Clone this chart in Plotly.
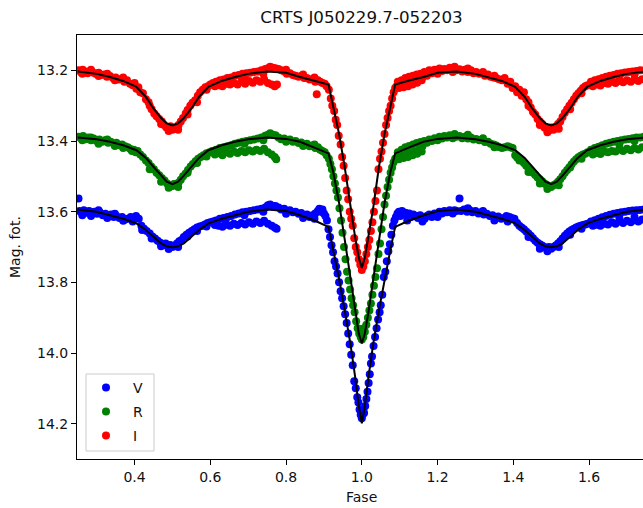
import plotly.graph_objects as go

title_text = "CRTS J050229.7-052203"
x_label = "Fase"
y_label = "Mag. fot."
band_names = ["V", "R", "I"]
band_colors = ["#0000ff", "#008000", "#ff0000"]
x_ticks = [0.4, 0.6, 0.8, 1.0, 1.2, 1.4, 1.6]
y_ticks = [13.2, 13.4, 13.6, 13.8, 14.0, 14.2]

# model light curve, phase 0.25 -> 1.0 (mirrored about phase 1.0)
model_phase = [0.25, 0.30, 0.335, 0.37, 0.405, 0.43, 0.45, 0.47, 0.485, 0.50,
               0.515, 0.53, 0.55, 0.57, 0.595, 0.63, 0.665, 0.70, 0.75, 0.80,
               0.837, 0.875, 0.912, 0.925, 0.940, 0.955, 0.970, 0.982, 0.992, 1.0]
model_V = [13.594, 13.600, 13.610, 13.620, 13.633, 13.652, 13.671, 13.690, 13.698, 13.701,
           13.698, 13.690, 13.671, 13.652, 13.633, 13.620, 13.610, 13.600, 13.594, 13.598,
           13.610, 13.625, 13.643, 13.710, 13.790, 13.880, 13.975, 14.065, 14.150, 14.199]
model_R = [13.390, 13.395, 13.402, 13.412, 13.426, 13.448, 13.473, 13.498, 13.515, 13.522,
           13.515, 13.498, 13.473, 13.448, 13.426, 13.412, 13.402, 13.395, 13.390, 13.394,
           13.402, 13.418, 13.435, 13.490, 13.575, 13.680, 13.790, 13.880, 13.945, 13.973]
model_I = [13.203, 13.210, 13.219, 13.230, 13.247, 13.275, 13.308, 13.335, 13.350, 13.356,
           13.350, 13.335, 13.308, 13.275, 13.247, 13.230, 13.219, 13.210, 13.203, 13.207,
           13.219, 13.229, 13.240, 13.305, 13.380, 13.475, 13.590, 13.670, 13.730, 13.759]

# ---------------- observed points (phase, magnitude) ----------------
V_first = [(0.252,13.563),(0.254,13.598),(0.260,13.602),(0.266,13.596),(0.273,13.603),(0.280,13.598),
    (0.287,13.605),(0.294,13.600),(0.301,13.606),(0.308,13.602),(0.316,13.610),(0.323,13.606),
    (0.330,13.612),(0.338,13.608),(0.345,13.615),(0.352,13.612),(0.360,13.618),(0.367,13.615),
    (0.375,13.622),(0.382,13.620),(0.390,13.615),(0.397,13.618),(0.404,13.612),(0.411,13.620),
    (0.418,13.640),(0.425,13.648),(0.432,13.655),(0.440,13.662),(0.447,13.670),(0.454,13.676),
    (0.461,13.682),(0.468,13.688),(0.475,13.694),(0.482,13.690),(0.488,13.698),(0.494,13.694),
    (0.500,13.700),(0.506,13.696),(0.512,13.690),(0.518,13.684),(0.524,13.680),(0.530,13.672),
    (0.537,13.665),(0.544,13.660),(0.551,13.655),(0.558,13.650),(0.565,13.645),(0.572,13.642),
    (0.579,13.640),(0.586,13.636),(0.593,13.632),(0.600,13.630),(0.607,13.628),
    (0.615,13.625),(0.625,13.620),(0.635,13.618),(0.645,13.615),(0.655,13.612),(0.665,13.608),
    (0.675,13.605),(0.685,13.602),(0.695,13.600),(0.705,13.598),(0.715,13.596),(0.725,13.594),
    (0.735,13.592),(0.745,13.588),(0.752,13.582),(0.758,13.580),(0.765,13.584),(0.772,13.584),
    (0.612,13.638),(0.622,13.640),(0.632,13.643),(0.642,13.637),(0.652,13.640),(0.662,13.634),
    (0.672,13.638),(0.682,13.632),(0.692,13.636),(0.702,13.630),(0.712,13.634),(0.722,13.628),
    (0.732,13.632),(0.742,13.626),(0.752,13.634),(0.762,13.640),(0.770,13.645),(0.775,13.648),
    (0.780,13.588),(0.787,13.594),(0.795,13.592),(0.802,13.598),(0.810,13.596),(0.818,13.602),
    (0.825,13.600),(0.833,13.606),(0.840,13.604),(0.848,13.610),(0.855,13.608),(0.862,13.615),
    (0.870,13.610),(0.877,13.605),(0.884,13.598),(0.888,13.592),(0.892,13.600),(0.896,13.594),
    (0.900,13.605),(0.904,13.612),(0.908,13.625)]
V_eclipse = [(0.912,13.650),(0.916,13.672),(0.920,13.695),(0.924,13.715),(0.928,13.740),(0.932,13.755),
    (0.936,13.775),(0.940,13.800),(0.944,13.825),(0.948,13.845),(0.952,13.868),(0.956,13.890),
    (0.960,13.915),(0.964,13.945),(0.968,13.975),(0.972,14.005),(0.976,14.035),(0.980,14.080),
    (0.984,14.100),(0.988,14.125),(0.991,14.140),(0.994,14.160),(0.997,14.175),(1.000,14.185),
    (1.002,14.175),(1.004,14.160),(1.006,14.170),(1.009,14.150),(1.012,14.130),(1.015,14.110),
    (1.018,14.085),(1.021,14.060),(1.024,14.030),(1.027,14.010),(1.031,13.980),(1.035,13.955),
    (1.039,13.930),(1.043,13.905),(1.047,13.885),(1.050,13.865),(1.054,13.835),(1.058,13.785),
    (1.062,13.770),(1.066,13.740),(1.070,13.712),(1.074,13.692),(1.078,13.665),(1.082,13.640),
    (1.086,13.625),(1.090,13.615)]
V_second = [(1.094,13.605),(1.098,13.600),(1.102,13.612),(1.106,13.598),(1.110,13.608),(1.115,13.603),
    (1.120,13.612),(1.125,13.605),(1.130,13.615),(1.136,13.608),(1.142,13.612),(1.148,13.618),
    (1.154,13.610),(1.160,13.615),(1.166,13.620),(1.172,13.612),(1.178,13.608),(1.185,13.615),
    (1.192,13.605),(1.198,13.610),(1.205,13.600),(1.212,13.605),(1.218,13.598),(1.225,13.602),
    (1.232,13.596),(1.238,13.600),(1.245,13.596),(1.250,13.598),(1.258,13.563),(1.262,13.598),
    (1.270,13.594),(1.278,13.600),(1.285,13.596),(1.292,13.602),(1.300,13.598),(1.308,13.605),
    (1.315,13.602),(1.322,13.608),(1.330,13.606),(1.338,13.612),(1.345,13.610),(1.352,13.615),
    (1.360,13.614),(1.368,13.620),(1.375,13.618),(1.382,13.612),(1.390,13.615),(1.396,13.618),
    (1.403,13.620),(1.410,13.632),(1.416,13.640),(1.422,13.645),(1.428,13.650),(1.434,13.656),
    (1.440,13.662),(1.446,13.668),(1.452,13.675),(1.458,13.682),(1.464,13.688),(1.470,13.692),
    (1.476,13.696),(1.482,13.700),(1.488,13.703),(1.494,13.700),(1.500,13.705),(1.506,13.700),
    (1.512,13.696),(1.518,13.690),(1.524,13.684),(1.530,13.676),(1.536,13.668),(1.542,13.662),
    (1.548,13.656),(1.554,13.652),(1.560,13.648),(1.566,13.645),(1.572,13.642),(1.578,13.640),
    (1.584,13.638),(1.590,13.636),(1.596,13.634),
    (1.605,13.628),(1.615,13.624),(1.625,13.620),(1.635,13.616),(1.645,13.612),(1.655,13.609),
    (1.665,13.606),(1.675,13.604),(1.685,13.602),(1.695,13.600),(1.705,13.598),(1.715,13.597),
    (1.725,13.596),(1.735,13.595),(1.745,13.594),
    (1.610,13.640),(1.620,13.637),(1.630,13.640),(1.640,13.634),(1.650,13.636),(1.660,13.630),
    (1.670,13.634),(1.680,13.628),(1.690,13.632),(1.700,13.626),(1.710,13.630),(1.720,13.624),
    (1.730,13.628),(1.740,13.622)]
V_extra = [(0.262,13.610),(0.285,13.612),(0.305,13.596),(0.328,13.618),(0.348,13.606),(0.370,13.626),
    (0.395,13.628),(0.420,13.652),(0.445,13.676),(0.470,13.698),(0.490,13.706),(0.515,13.700),
    (0.540,13.670),(0.565,13.655),(0.590,13.642),(0.640,13.626),(0.690,13.610),(0.740,13.600),
    (0.800,13.606),(0.845,13.618),(0.875,13.620),(1.120,13.625),(1.160,13.628),(1.200,13.615),
    (1.240,13.605),(1.280,13.590),(1.320,13.598),(1.350,13.625),(1.385,13.628),(1.440,13.672),
    (1.470,13.705),(1.490,13.712),(1.520,13.700),(1.550,13.665),(1.580,13.648),(1.620,13.632),
    (1.680,13.618),(1.720,13.615)]

R_first = [(0.252,13.388),(0.258,13.392),(0.264,13.386),(0.271,13.395),(0.278,13.390),(0.285,13.398),
    (0.292,13.393),(0.300,13.400),(0.307,13.396),(0.315,13.402),(0.322,13.398),(0.330,13.405),
    (0.337,13.402),(0.345,13.408),(0.352,13.405),(0.360,13.412),(0.367,13.410),(0.375,13.415),
    (0.382,13.418),(0.388,13.422),(0.393,13.428),(0.398,13.425),(0.403,13.432),(0.408,13.428),
    (0.415,13.438),(0.422,13.445),(0.430,13.455),(0.437,13.462),(0.444,13.472),(0.451,13.480),
    (0.458,13.490),(0.465,13.497),(0.472,13.505),(0.479,13.512),(0.486,13.520),(0.492,13.525),
    (0.498,13.528),(0.504,13.522),(0.510,13.526),(0.516,13.518),(0.522,13.510),(0.528,13.500),
    (0.535,13.492),(0.541,13.482),(0.548,13.472),(0.554,13.465),(0.561,13.457),(0.568,13.450),
    (0.575,13.445),(0.582,13.440),(0.590,13.435),(0.598,13.432),(0.605,13.428),
    (0.615,13.425),(0.625,13.420),(0.635,13.418),(0.645,13.415),(0.655,13.412),(0.665,13.408),
    (0.675,13.405),(0.685,13.402),(0.695,13.400),(0.705,13.398),(0.715,13.396),(0.725,13.393),
    (0.735,13.390),(0.745,13.385),(0.752,13.382),(0.758,13.378),(0.765,13.382),(0.772,13.384),
    (0.612,13.438),(0.622,13.435),(0.632,13.440),(0.642,13.432),(0.652,13.436),(0.662,13.430),
    (0.672,13.434),(0.682,13.428),(0.692,13.432),(0.702,13.426),(0.712,13.430),(0.722,13.425),
    (0.732,13.428),(0.742,13.422),(0.752,13.432),(0.762,13.438),(0.770,13.445),(0.774,13.452),
    (0.780,13.390),(0.787,13.395),(0.795,13.393),(0.802,13.398),(0.810,13.396),(0.818,13.402),
    (0.825,13.400),(0.833,13.406),(0.840,13.404),(0.848,13.410),(0.855,13.408),(0.862,13.415),
    (0.870,13.413),(0.877,13.420),(0.884,13.418),(0.890,13.425),(0.896,13.428),(0.902,13.432),
    (0.907,13.440)]
R_eclipse = [(0.913,13.450),(0.917,13.465),(0.921,13.480),(0.925,13.500),(0.929,13.520),(0.933,13.540),
    (0.937,13.560),(0.941,13.590),(0.945,13.625),(0.949,13.660),(0.953,13.700),(0.957,13.735),
    (0.961,13.770),(0.965,13.795),(0.969,13.820),(0.973,13.845),(0.977,13.865),(0.981,13.885),
    (0.985,13.910),(0.989,13.930),(0.993,13.945),(0.994,13.932),(0.997,13.955),(1.000,13.962),
    (1.003,13.940),(1.004,13.955),(1.006,13.930),(1.008,13.940),(1.012,13.920),(1.016,13.900),
    (1.020,13.880),(1.024,13.860),(1.028,13.835),(1.032,13.810),(1.036,13.785),(1.040,13.760),
    (1.044,13.720),(1.048,13.690),(1.052,13.650),(1.056,13.615),(1.060,13.580),(1.064,13.555),
    (1.068,13.530),(1.072,13.510),(1.076,13.490),(1.080,13.475),(1.084,13.460),(1.088,13.450)]
R_second = [(1.092,13.448),(1.098,13.452),(1.104,13.442),(1.110,13.448),(1.116,13.438),(1.122,13.445),
    (1.128,13.435),(1.134,13.440),(1.140,13.430),(1.146,13.436),(1.152,13.425),(1.158,13.430),
    (1.095,13.432),(1.105,13.425),(1.115,13.418),(1.125,13.414),(1.135,13.410),(1.145,13.406),
    (1.155,13.403),(1.165,13.400),(1.172,13.405),(1.178,13.396),(1.185,13.400),(1.192,13.392),
    (1.198,13.396),(1.205,13.388),(1.212,13.393),(1.218,13.386),(1.225,13.390),(1.232,13.384),
    (1.238,13.388),(1.245,13.380),(1.250,13.388),(1.258,13.386),(1.265,13.392),(1.272,13.388),
    (1.280,13.393),(1.288,13.390),(1.295,13.396),(1.302,13.394),(1.310,13.398),(1.318,13.397),
    (1.325,13.403),(1.333,13.402),(1.340,13.408),(1.348,13.410),(1.355,13.413),(1.362,13.417),
    (1.370,13.420),(1.377,13.418),(1.385,13.415),(1.392,13.418),(1.398,13.420),(1.405,13.440),
    (1.410,13.447),(1.416,13.455),(1.422,13.455),(1.428,13.462),(1.434,13.470),(1.440,13.476),
    (1.446,13.482),(1.452,13.490),(1.458,13.496),(1.464,13.503),(1.470,13.508),(1.476,13.514),
    (1.482,13.520),(1.488,13.524),(1.494,13.528),(1.500,13.530),(1.506,13.525),(1.512,13.522),
    (1.518,13.515),(1.524,13.508),(1.530,13.500),(1.536,13.490),(1.542,13.482),(1.548,13.474),
    (1.554,13.466),(1.560,13.458),(1.566,13.452),(1.572,13.446),(1.578,13.442),(1.584,13.438),
    (1.590,13.436),(1.596,13.432),
    (1.605,13.425),(1.615,13.420),(1.625,13.416),(1.635,13.412),(1.645,13.408),(1.655,13.405),
    (1.665,13.402),(1.675,13.400),(1.685,13.398),(1.695,13.396),(1.705,13.394),(1.715,13.392),
    (1.725,13.390),(1.735,13.390),(1.745,13.388),
    (1.610,13.438),(1.620,13.434),(1.630,13.437),(1.640,13.430),(1.650,13.432),(1.660,13.428),
    (1.670,13.430),(1.680,13.424),(1.690,13.428),(1.700,13.422),(1.710,13.426),(1.720,13.420),
    (1.730,13.424),(1.740,13.418)]
R_extra = [(0.262,13.398),(0.285,13.390),(0.305,13.408),(0.328,13.396),(0.348,13.414),(0.370,13.420),
    (0.440,13.480),(0.470,13.515),(0.490,13.532),(0.515,13.530),(0.540,13.490),(0.565,13.462),
    (0.590,13.444),(0.640,13.424),(0.690,13.408),(0.740,13.398),(0.800,13.402),(0.845,13.414),
    (0.875,13.410),(1.120,13.432),(1.160,13.415),(1.200,13.398),(1.240,13.392),(1.280,13.382),
    (1.320,13.392),(1.350,13.418),(1.440,13.488),(1.470,13.520),(1.490,13.536),(1.520,13.525),
    (1.550,13.475),(1.580,13.450),(1.620,13.428),(1.680,13.410),(1.720,13.400)]

I_first = [(0.252,13.200),(0.258,13.205),(0.263,13.198),(0.270,13.203),(0.276,13.208),(0.283,13.202),
    (0.290,13.206),(0.297,13.210),(0.305,13.207),(0.312,13.213),(0.320,13.212),(0.327,13.218),
    (0.335,13.216),(0.343,13.222),(0.350,13.220),(0.358,13.226),(0.366,13.224),(0.373,13.232),
    (0.380,13.228),(0.388,13.238),(0.395,13.242),(0.400,13.236),(0.405,13.252),(0.410,13.248),
    (0.415,13.262),(0.422,13.265),(0.430,13.282),(0.437,13.290),(0.445,13.310),(0.452,13.322),
    (0.458,13.330),(0.465,13.338),(0.472,13.345),(0.478,13.355),(0.484,13.362),(0.490,13.365),
    (0.495,13.358),(0.500,13.368),(0.505,13.362),(0.510,13.365),(0.516,13.355),(0.522,13.345),
    (0.528,13.335),(0.535,13.322),(0.540,13.312),(0.547,13.300),(0.553,13.292),(0.560,13.285),
    (0.567,13.272),(0.573,13.262),(0.580,13.255),(0.587,13.248),(0.594,13.245),(0.600,13.240),
    (0.607,13.236),
    (0.615,13.232),(0.625,13.228),(0.635,13.226),(0.645,13.222),(0.655,13.220),(0.665,13.215),
    (0.675,13.213),(0.685,13.210),(0.695,13.208),(0.705,13.207),(0.715,13.205),(0.725,13.203),
    (0.735,13.200),(0.745,13.196),(0.752,13.194),(0.758,13.190),(0.765,13.193),(0.772,13.194),
    (0.612,13.245),(0.622,13.242),(0.632,13.245),(0.642,13.238),(0.652,13.240),(0.662,13.236),
    (0.672,13.240),(0.682,13.232),(0.692,13.238),(0.702,13.230),(0.712,13.235),(0.722,13.228),
    (0.732,13.232),(0.742,13.225),(0.752,13.236),(0.762,13.240),(0.770,13.245),(0.776,13.240),
    (0.780,13.196),(0.787,13.200),(0.795,13.203),(0.802,13.210),(0.810,13.208),(0.818,13.213),
    (0.825,13.215),(0.833,13.218),(0.840,13.216),(0.848,13.222),(0.855,13.222),(0.862,13.226),
    (0.870,13.225),(0.877,13.232),(0.881,13.268),(0.884,13.228),(0.890,13.232),(0.896,13.236),
    (0.902,13.238),(0.907,13.245)]
I_eclipse = [(0.913,13.255),(0.918,13.280),(0.922,13.300),(0.927,13.315),(0.931,13.340),(0.935,13.355),
    (0.939,13.385),(0.944,13.410),(0.948,13.445),(0.952,13.470),(0.956,13.505),(0.960,13.540),
    (0.964,13.565),(0.968,13.600),(0.972,13.620),(0.976,13.640),(0.980,13.675),(0.984,13.700),
    (0.988,13.715),(0.992,13.735),(0.996,13.750),(1.000,13.765),(1.004,13.755),(1.008,13.740),
    (1.012,13.720),(1.016,13.700),(1.020,13.680),(1.024,13.655),(1.028,13.630),(1.032,13.600),
    (1.036,13.570),(1.040,13.540),(1.044,13.480),(1.048,13.450),(1.052,13.430),(1.056,13.405),
    (1.060,13.380),(1.064,13.355),(1.068,13.335),(1.072,13.315),(1.076,13.300),(1.080,13.280),
    (1.084,13.262),(1.088,13.250)]
I_second = [(1.092,13.245),(1.098,13.250),(1.104,13.240),(1.110,13.248),(1.116,13.238),(1.122,13.245),
    (1.128,13.235),(1.134,13.240),(1.140,13.228),(1.146,13.235),(1.152,13.222),(1.158,13.228),
    (1.095,13.232),(1.105,13.228),(1.115,13.222),(1.125,13.218),(1.135,13.215),(1.145,13.212),
    (1.155,13.210),(1.165,13.205),(1.172,13.215),(1.178,13.200),(1.185,13.208),(1.192,13.198),
    (1.198,13.205),(1.205,13.195),(1.212,13.202),(1.218,13.196),(1.225,13.200),(1.232,13.193),
    (1.238,13.198),(1.245,13.190),(1.250,13.200),(1.258,13.197),(1.265,13.203),(1.272,13.198),
    (1.280,13.205),(1.288,13.200),(1.295,13.208),(1.302,13.205),(1.310,13.210),(1.318,13.208),
    (1.325,13.215),(1.333,13.212),(1.340,13.218),(1.348,13.220),(1.355,13.222),(1.362,13.225),
    (1.370,13.228),(1.377,13.222),(1.385,13.238),(1.392,13.232),(1.398,13.250),(1.405,13.245),
    (1.410,13.262),(1.416,13.255),(1.422,13.272),(1.428,13.262),(1.434,13.282),(1.440,13.290),
    (1.446,13.305),(1.452,13.318),(1.458,13.325),(1.464,13.338),(1.470,13.345),(1.476,13.352),
    (1.482,13.362),(1.488,13.365),(1.494,13.370),(1.500,13.362),(1.506,13.368),(1.512,13.360),
    (1.518,13.352),(1.524,13.345),(1.530,13.332),(1.536,13.320),(1.542,13.310),(1.548,13.300),
    (1.554,13.292),(1.560,13.282),(1.566,13.272),(1.572,13.265),(1.578,13.258),(1.584,13.250),
    (1.590,13.245),(1.596,13.242),
    (1.605,13.232),(1.615,13.228),(1.625,13.225),(1.635,13.222),(1.645,13.218),(1.655,13.215),
    (1.665,13.213),(1.675,13.210),(1.685,13.208),(1.695,13.206),(1.705,13.205),(1.715,13.203),
    (1.725,13.202),(1.735,13.200),(1.745,13.200),
    (1.610,13.245),(1.620,13.240),(1.630,13.243),(1.640,13.236),(1.650,13.238),(1.660,13.232),
    (1.670,13.236),(1.680,13.230),(1.690,13.234),(1.700,13.228),(1.710,13.232),(1.720,13.226),
    (1.730,13.230),(1.740,13.225)]
I_extra = [(0.262,13.210),(0.285,13.198),(0.305,13.216),(0.328,13.210),(0.348,13.228),(0.370,13.220),
    (0.440,13.300),(0.470,13.352),(0.490,13.372),(0.515,13.368),(0.540,13.325),(0.565,13.290),
    (0.590,13.255),(0.640,13.230),(0.690,13.218),(0.740,13.210),(0.800,13.198),(0.845,13.212),
    (0.875,13.220),(1.120,13.228),(1.160,13.218),(1.200,13.210),(1.240,13.205),(1.280,13.195),
    (1.320,13.205),(1.350,13.215),(1.440,13.300),(1.470,13.355),(1.490,13.375),(1.520,13.365),
    (1.550,13.310),(1.580,13.265),(1.620,13.235),(1.680,13.218),(1.720,13.212)]

points = {
    "V": V_first + V_eclipse + V_second + V_extra,
    "R": R_first + R_eclipse + R_second + R_extra,
    "I": I_first + I_eclipse + I_second + I_extra,
}
models = {"V": model_V, "R": model_R, "I": model_I}

FONT = "DejaVu Sans"
fig = go.Figure()

legend_ids = ["legend", "legend2", "legend3"]
for name, color, lid in zip(band_names, band_colors, legend_ids):
    pts = points[name]
    fig.add_trace(go.Scatter(
        x=[p[0] for p in pts], y=[p[1] for p in pts], mode="markers", name=name,
        marker=dict(color=color, size=8, line=dict(width=0)), legend=lid))

full_phase = model_phase + [round(2 - p, 4) for p in reversed(model_phase[:-1])]
for name in band_names:
    m = models[name]
    full_mag = m + list(reversed(m[:-1]))
    fig.add_trace(go.Scatter(x=full_phase, y=full_mag, mode="lines",
                             line=dict(color="black", width=2), showlegend=False,
                             hoverinfo="skip"))

axis_common = dict(showline=True, linecolor="black", linewidth=1, ticks="outside",
                   ticklen=5, tickwidth=1, tickcolor="black", showgrid=False,
                   zeroline=False, tickformat=".1f",
                   tickfont=dict(family=FONT, size=14, color="#111"))

H = 424.0
W = 566.0
def py(v):  # pixel y (from top of figure) -> paper
    return (459 - v) / H
def px(v):
    return (v - 77) / W

legend_layout = {}
for lid, ypix in zip(legend_ids, [388, 412, 436]):
    legend_layout[lid] = dict(x=px(79), y=py(ypix), xanchor="left", yanchor="middle",
                              bgcolor="rgba(0,0,0,0)", borderwidth=0, itemwidth=44,
                              font=dict(family=FONT, size=14, color="#111"))

fig.update_layout(
    width=643, height=508,
    margin=dict(l=77, r=0, t=35, b=49, pad=0),
    plot_bgcolor="white", paper_bgcolor="white",
    font=dict(family=FONT, size=14, color="#111"),
    title=dict(text=title_text, x=px(361.5), xref="paper", xanchor="center",
               y=1 - 17 / 508, yref="container", yanchor="middle",
               font=dict(family=FONT, size=16.7, color="#111")),
    xaxis=dict(range=[0.248, 1.7424], tickvals=x_ticks, mirror=True, **axis_common),
    yaxis=dict(range=[14.3, 13.1], tickvals=y_ticks, **axis_common),
    showlegend=True,
    shapes=[dict(type="rect", xref="paper", yref="paper", x0=px(86), x1=px(154),
                 y0=py(451), y1=py(374), fillcolor="rgba(255,255,255,0.8)",
                 line=dict(color="#cccccc", width=1), layer="above")],
    annotations=[
        dict(text=x_label, xref="paper", yref="paper", x=px(361.5), y=py(497),
             showarrow=False, xanchor="center", yanchor="middle",
             font=dict(family=FONT, size=14, color="#111")),
        dict(text=y_label, xref="paper", yref="paper", x=px(15), y=py(247),
             showarrow=False, xanchor="center", yanchor="middle", textangle=-90,
             font=dict(family=FONT, size=14, color="#111")),
    ],
    **legend_layout,
)

fig.write_html("out.html")
